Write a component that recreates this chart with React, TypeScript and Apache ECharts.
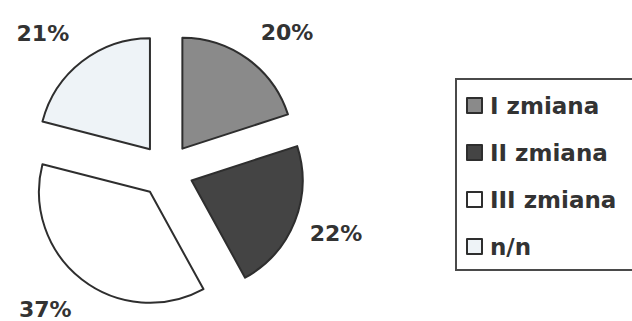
import React, { useEffect, useRef } from "react";
import * as echarts from "echarts";

const categories = ["I zmiana", "II zmiana", "III zmiana", "n/n"];
const values = [20, 22, 37, 21];
const colors = ["#8a8a8a", "#444444", "#ffffff", "#eef3f7"];
// per-slice label placement (line lengths along the bisector / horizontal)
const labelLen = [32.6, 31.9, 37.3, 35.4];
const labelLen2 = [-11.1, -19.8, -17.5, -14.0];

const FONT = "'DejaVu Sans', sans-serif";

export default function App() {
  const ref = useRef<HTMLDivElement>(null);
  useEffect(() => {
    if (!ref.current) return;
    const chart = echarts.init(ref.current, undefined, { renderer: "svg" });
    chart.setOption({
      animation: false,
      backgroundColor: "#ffffff",
      legend: {
        orient: "vertical",
        left: 456,
        top: 79,
        padding: [15, 30, 12, 10],
        borderColor: "#4a4a4a",
        borderWidth: 2,
        itemWidth: 15,
        itemHeight: 15,
        itemGap: 24,
        icon: "rect",
        selectedMode: false,
        itemStyle: { borderColor: "#2e2e2e", borderWidth: 2 },
        textStyle: {
          fontFamily: FONT,
          fontWeight: "bold",
          fontSize: 23,
          lineHeight: 22,
          color: "#333333",
          padding: [0, 0, 0, 3],
        },
        data: categories,
      },
      series: [
        {
          type: "pie",
          center: [166.5, 170.5],
          radius: 111,
          startAngle: 90,
          clockwise: true,
          selectedMode: "multiple",
          selectedOffset: 27,
          avoidLabelOverlap: false,
          emphasis: { disabled: true },
          itemStyle: { borderColor: "#2e2e2e", borderWidth: 2 },
          label: {
            show: true,
            position: "outside",
            formatter: "{c}%",
            fontFamily: FONT,
            fontWeight: "bold",
            fontSize: 22,
            color: "#333333",
          },
          labelLine: { show: false },
          data: categories.map((name, i) => ({
            name,
            value: values[i],
            selected: true,
            itemStyle: { color: colors[i] },
            labelLine: { show: false, length: labelLen[i], length2: labelLen2[i] },
          })),
        },
      ],
    });
    return () => chart.dispose();
  }, []);
  return (
    <div
      ref={ref}
      style={{ position: "fixed", left: 0, top: 0, width: 680, height: 321 }}
    />
  );
}
